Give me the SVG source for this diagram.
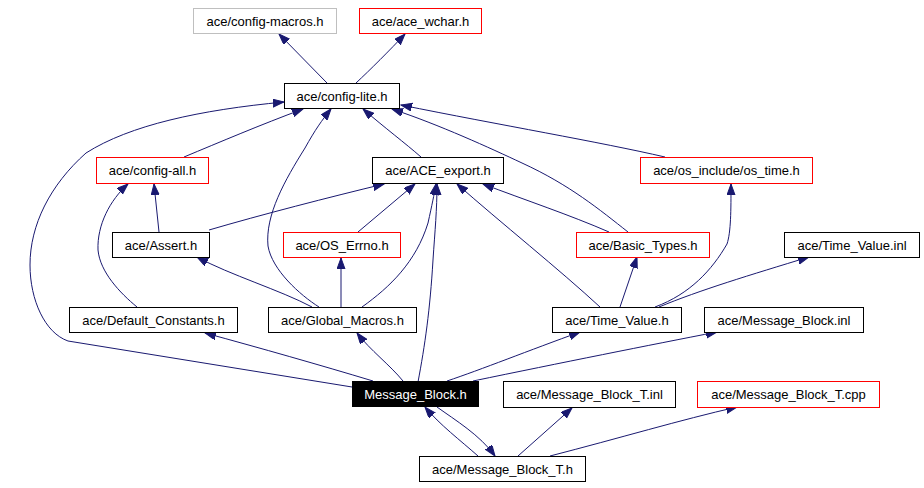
<svg xmlns="http://www.w3.org/2000/svg" width="924" height="488" viewBox="0 0 924 488">
<defs>
<marker id="arr" markerUnits="userSpaceOnUse" markerWidth="12" markerHeight="9" refX="11" refY="4" orient="auto">
<path d="M0,0 L11,4 L0,8 z" fill="#191970" stroke="#191970" stroke-width="1"/>
</marker>
</defs>
<style>
.box{fill:#ffffff;stroke:#000000;stroke-width:1}
.red{stroke:#ff0000}
.gray{stroke:#bfbfbf}
.cur{fill:#000000;stroke:#000000}
text{font-family:"Liberation Sans",Arial,sans-serif;font-size:13px;text-anchor:middle;fill:#000000}
.cur-t{fill:#ffffff}
.edges path{fill:none;stroke:#191970;stroke-width:1;marker-end:url(#arr)}
</style>
<rect width="924" height="488" fill="#ffffff"/>
<g class="edges" id="connectors">
<path d="M327,83 L279,34"/>
<path d="M356,83 C370,70 390,50 405,34"/>
<path d="M184,157 C220,142 260,125 303,109"/>
<path d="M352,387 L68,341 C45,333 30,300 30,265 C30,225 50,185 86,153 C130,125 200,110 284,102"/>
<path d="M421,157 C405,143 385,128 363,109"/>
<path d="M319,307 C300,295 272,270 268,246 C265,215 285,180 305,148 C315,130 322,120 331,109"/>
<path d="M665,157 C600,142 500,125 401,105"/>
<path d="M628,232 C600,210 570,185 522,163 C490,148 440,125 392,109"/>
<path d="M159,232 L154,184"/>
<path d="M137,307 C120,293 100,272 98,250 C97,225 110,200 128,184"/>
<path d="M209,230 C260,215 330,197 384,184"/>
<path d="M358,232 L415,184"/>
<path d="M362,307 C390,287 416,262 428,223 C432,205 434,195 436,184"/>
<path d="M418,382 C425,345 430,310 433,260 C435,230 437,210 437,184"/>
<path d="M600,307 C560,270 500,222 457,184"/>
<path d="M609,232 C570,215 525,200 483,184"/>
<path d="M312,307 C280,290 230,275 197,257"/>
<path d="M341,307 L341,258"/>
<path d="M620,307 L637,257"/>
<path d="M655,307 C690,294 712,270 727,244 C731,232 731,210 731,184"/>
<path d="M659,307 C700,290 750,275 809,257"/>
<path d="M373,381 C320,365 260,348 205,333"/>
<path d="M403,381 C390,365 370,350 357,333"/>
<path d="M447,381 C480,370 530,350 580,332"/>
<path d="M473,381 C560,363 650,345 717,332"/>
<path d="M478,456 C460,440 440,425 425,407"/>
<path d="M437,407 C455,420 480,435 495,456"/>
<path d="M518,456 L572,408"/>
<path d="M550,456 C620,438 680,420 737,407"/>
</g>
<g id="n1"><rect class="box gray" x="193.5" y="8.5" width="143" height="25"/><text x="265" y="25.5">ace/config-macros.h</text></g>
<g id="n2"><rect class="box red" x="359.5" y="8.5" width="122" height="25"/><text x="420.5" y="25.5">ace/ace_wchar.h</text></g>
<g id="n3"><rect class="box" x="284.5" y="83.5" width="115" height="25"/><text x="342" y="100.5">ace/config-lite.h</text></g>
<g id="n4"><rect class="box red" x="96.5" y="157.5" width="112" height="26"/><text x="152.5" y="175">ace/config-all.h</text></g>
<g id="n5"><rect class="box" x="372.5" y="157.5" width="131" height="26"/><text x="438" y="175">ace/ACE_export.h</text></g>
<g id="n6"><rect class="box red" x="640.5" y="157.5" width="172" height="26"/><text x="726.5" y="175">ace/os_include/os_time.h</text></g>
<g id="n7"><rect class="box" x="112.5" y="232.5" width="97" height="25"/><text x="161" y="249.5">ace/Assert.h</text></g>
<g id="n8"><rect class="box red" x="283.5" y="232.5" width="117" height="25"/><text x="342" y="249.5">ace/OS_Errno.h</text></g>
<g id="n9"><rect class="box red" x="576.5" y="232.5" width="133" height="25"/><text x="643" y="249.5">ace/Basic_Types.h</text></g>
<g id="n10"><rect class="box" x="784.5" y="232.5" width="135" height="25"/><text x="852" y="249.5">ace/Time_Value.inl</text></g>
<g id="n11"><rect class="box" x="69.5" y="307.5" width="168" height="25"/><text x="153.5" y="324.5">ace/Default_Constants.h</text></g>
<g id="n12"><rect class="box" x="268.5" y="307.5" width="148" height="25"/><text x="342.5" y="324.5">ace/Global_Macros.h</text></g>
<g id="n13"><rect class="box" x="552.5" y="307.5" width="129" height="25"/><text x="617" y="324.5">ace/Time_Value.h</text></g>
<g id="n14"><rect class="box" x="704.5" y="307.5" width="159" height="25"/><text x="784" y="324.5">ace/Message_Block.inl</text></g>
<g id="n15"><rect class="box cur" x="352.5" y="381.5" width="126" height="25"/><text class="cur-t" x="415.5" y="398.5">Message_Block.h</text></g>
<g id="n16"><rect class="box" x="503.5" y="381.5" width="172" height="26"/><text x="589.5" y="399">ace/Message_Block_T.inl</text></g>
<g id="n17"><rect class="box red" x="697.5" y="381.5" width="182" height="26"/><text x="788.5" y="399">ace/Message_Block_T.cpp</text></g>
<g id="n18"><rect class="box" x="419.5" y="456.5" width="166" height="25"/><text x="502.5" y="473.5">ace/Message_Block_T.h</text></g>
</svg>
